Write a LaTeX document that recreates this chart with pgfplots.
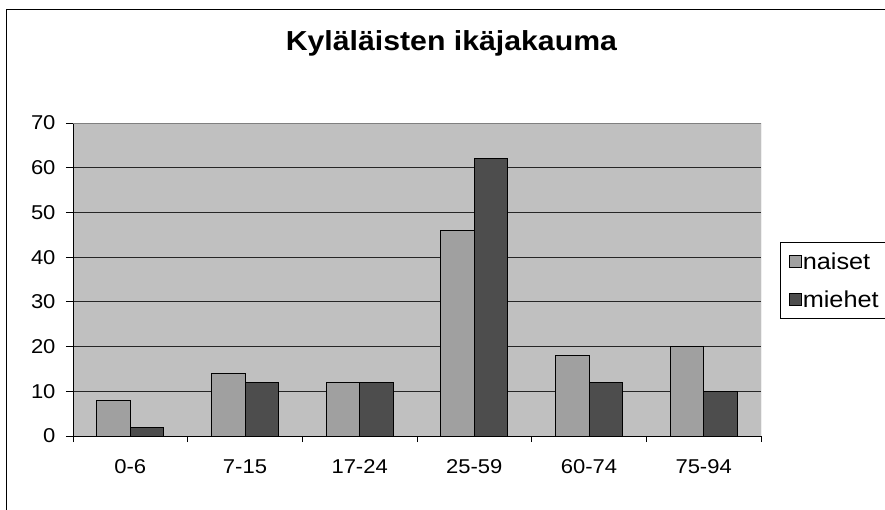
\documentclass[border=0pt]{standalone}
\usepackage{fontspec}
\setmainfont[FakeStretch=1.1]{Liberation Sans}
\usepackage{pgfplots}
\pgfplotsset{compat=1.18}
\definecolor{plotbg}{HTML}{C0C0C0}
\definecolor{naiset}{HTML}{A0A0A0}
\definecolor{miehet}{HTML}{4D4D4D}

\begin{document}
\begin{tikzpicture}
\useasboundingbox (0,0) rectangle (885bp,510bp);
% chart frame (runs off the right and bottom edges)
\draw[line width=1bp] (6bp,-10bp) -- (6bp,500bp) -- (900bp,500bp);
\begin{axis}[
    at={(73bp,74bp)}, anchor=south west,
    scale only axis,
    width=688bp, height=313bp,
    xmin=-0.5, xmax=5.5,
    ymin=0, ymax=70,
    ybar=0pt,
    bar width=33.5bp,
    every axis plot post/.append style={
        legend image code/.code={\draw[##1, line width=0.8bp] (0bp,-6bp) rectangle (12bp,6bp);}
    },
    axis x line*=bottom,
    axis y line*=left,
    axis line style={black, line width=1bp},
    axis background/.style={fill=plotbg},
    xtick={0,...,5},
    xticklabels={0-6,7-15,17-24,25-59,60-74,75-94},
    minor xtick={-0.5,0.5,...,5.5},
    ytick={0,10,...,70},
    tick align=outside,
    every major x tick/.style={draw=none},
    major tick length=7bp,
    minor tick length=6bp,
    tick style={black, line width=1bp},
    ymajorgrids,
    major grid style={black!85, line width=0.8bp},
    /pgf/number format/assume math mode=true,
    ticklabel style={font=\fontsize{20bp}{22bp}\selectfont},
    xticklabel style={yshift=-13bp},
    yticklabel style={xshift=-7bp},
    title={Kyläläisten ikäjakauma},
    title style={at={(0.550,1.211)}, anchor=base,
        font=\bfseries\fontsize{27.5bp}{32bp}\selectfont},
    legend style={at={(1.027,0.620)}, anchor=north west,
        draw=black, line width=0.8bp, fill=white,
        inner xsep=9bp, inner ysep=9bp,
        row sep=18bp,
        nodes={inner sep=1bp},
        font=\fontsize{23bp}{26bp}\selectfont},
    legend cell align=left,
]
\addplot[fill=naiset, draw=black, line width=1bp]
    coordinates {(0,8) (1,14) (2,12) (3,46) (4,18) (5,20)};
\addplot[fill=miehet, draw=black, line width=1bp]
    coordinates {(0,2) (1,12) (2,12) (3,62) (4,12) (5,10)};
\legend{naiset, miehet}
\draw[gray, line width=1bp] (rel axis cs:0,1) -- (rel axis cs:1,1) -- (rel axis cs:1,0);
\end{axis}
\end{tikzpicture}
\end{document}
